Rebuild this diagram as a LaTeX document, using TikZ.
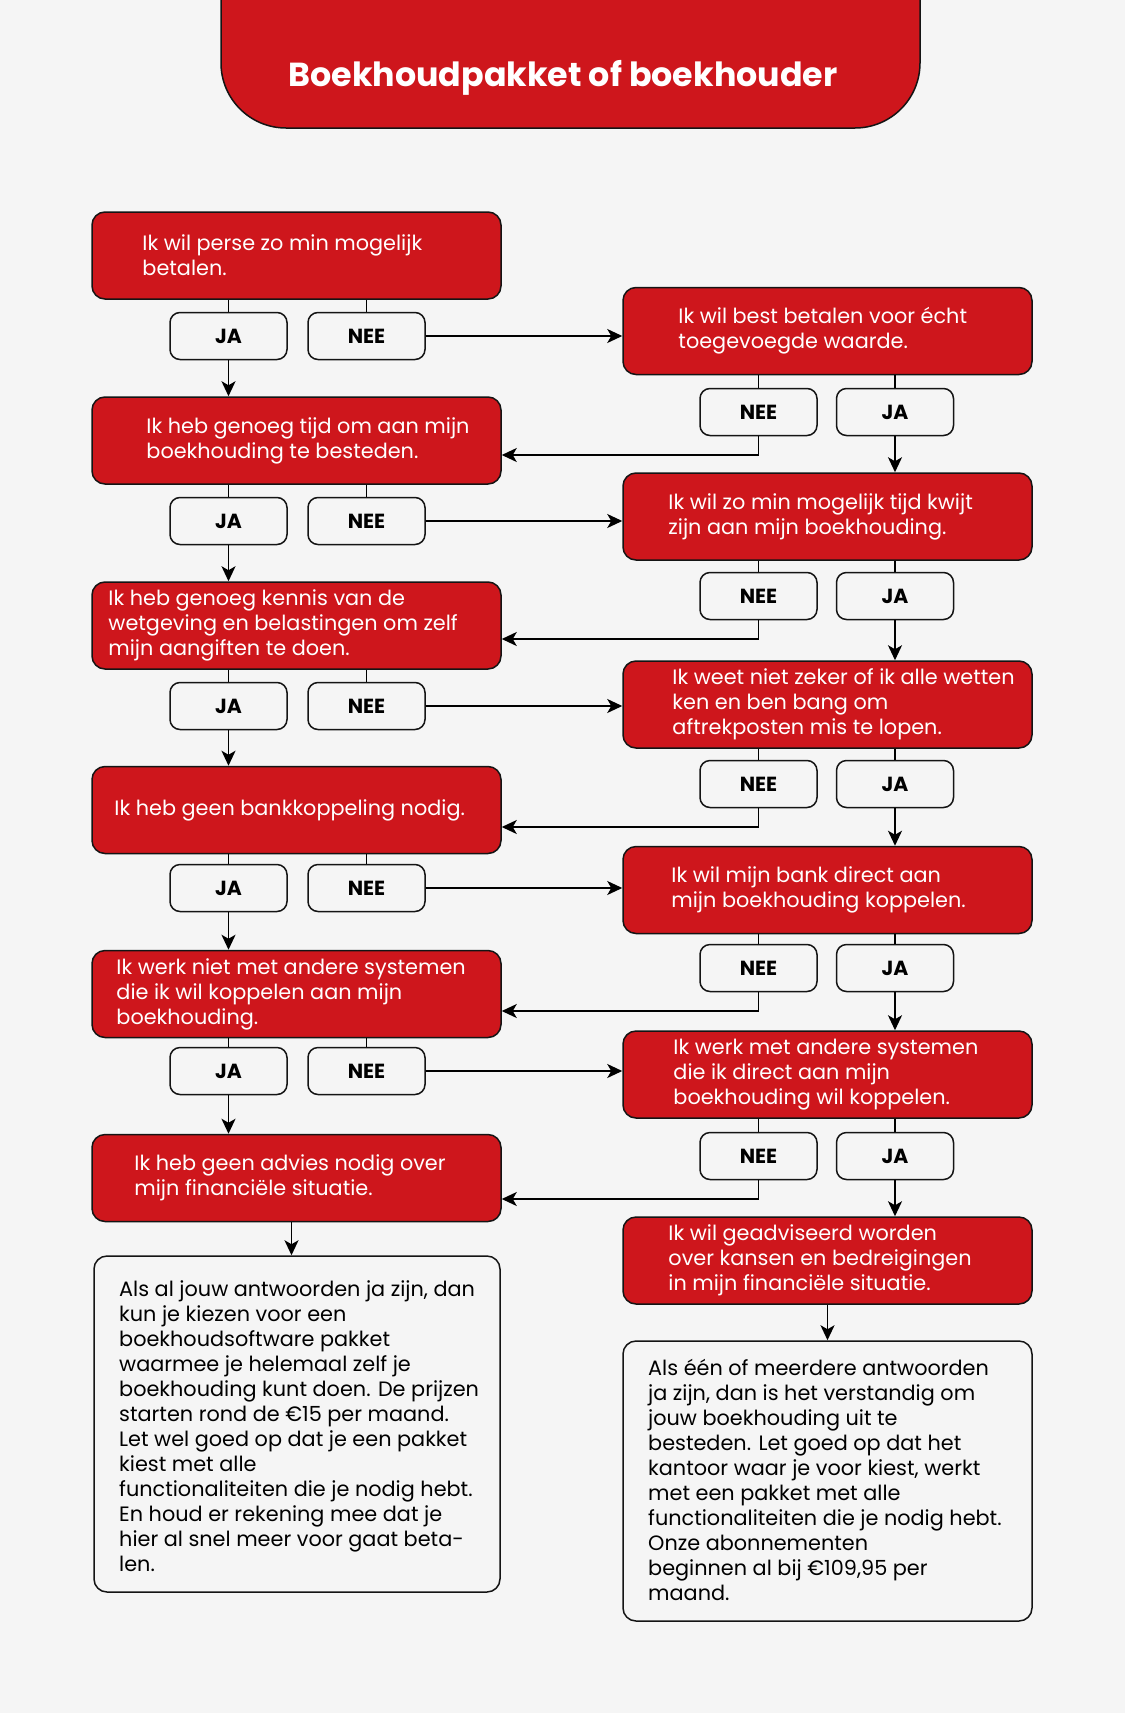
\documentclass[tikz,border=0pt]{standalone}
\usepackage{fontspec}
\setmainfont{Poppins}
\usetikzlibrary{arrows.meta,calc}
\definecolor{bg}{RGB}{245,245,245}
\definecolor{myred}{RGB}{206,22,28}
\definecolor{edge}{RGB}{20,20,20}
\tikzset{
  redbox/.style={draw=edge, line width=1.5pt, fill=myred, rounded corners=13pt,
    minimum width=409pt, minimum height=87pt, inner sep=0pt},
  lbl/.style={draw=edge, line width=1.5pt, fill=bg, rounded corners=10pt,
    minimum width=117pt, minimum height=47pt, inner sep=0pt,
    font=\fontsize{20.4}{24}\selectfont\bfseries},
  wbox/.style={draw=edge, line width=1.5pt, fill=bg, rounded corners=13pt, inner sep=0pt},
  rtxt/.style={anchor=west, text=white, align=left, inner sep=0pt,
    font=\fontsize{20.8}{25}\selectfont},
  btxt/.style={anchor=west, text=black, align=left, inner sep=0pt,
    font=\fontsize{20.8}{25}\selectfont},
  conn/.style={draw=black, line width=1.8pt},
  arr/.style={conn, -{Stealth[length=15pt,width=14pt,inset=4pt]}}
}
\begin{document}
\begin{tikzpicture}[x=1pt,y=-1pt]
\useasboundingbox (0,0) rectangle (1125,1713);
\fill[bg] (0,0) rectangle (1125,1713);
\begin{scope}
\clip (0,0) rectangle (1125,1713);
\node[draw=edge, line width=1.5pt, fill=myred, rounded corners=65pt, minimum width=699pt, minimum height=228pt, inner sep=0pt] (title) at (570.5,14) {};
\end{scope}
\node[anchor=base, text=white, inner sep=0pt, font=\fontsize{33.3}{40}\selectfont\bfseries] (ttl) at (563,86) {Boekhoudpakket of boekhouder};

% left column boxes
\node[redbox] (L1) at (296.5,255.5) {};
\node[redbox] (L2) at (296.5,440.5) {};
\node[redbox] (L3) at (296.5,625.5) {};
\node[redbox] (L4) at (296.5,810) {};
\node[redbox] (L5) at (296.5,994) {};
\node[redbox] (L6) at (296.5,1178) {};
% right column boxes
\node[redbox] (R1) at (827.5,331) {};
\node[redbox] (R2) at (827.5,516.5) {};
\node[redbox] (R3) at (827.5,704.5) {};
\node[redbox] (R4) at (827.5,890) {};
\node[redbox] (R5) at (827.5,1074.5) {};
\node[redbox] (R6) at (827.5,1260.5) {};

% texts
\node[rtxt] (tL1) at ([xshift=51pt]L1.west) {Ik wil perse zo min mogelijk\\betalen.};
\node[rtxt] (tL2) at ([xshift=55pt]L2.west) {Ik heb genoeg tijd om aan mijn\\boekhouding te besteden.};
\node[rtxt] (tL3) at ([xshift=17pt]L3.west) {Ik heb genoeg kennis van de\\wetgeving en belastingen om zelf\\mijn aangiften te doen.};
\node[rtxt] (tL4) at ([xshift=23pt]L4.west) {Ik heb geen bankkoppeling nodig.};
\node[rtxt] (tL5) at ([xshift=25pt]L5.west) {Ik werk niet met andere systemen\\die ik wil koppelen aan mijn\\boekhouding.};
\node[rtxt] (tL6) at ([xshift=43pt]L6.west) {Ik heb geen advies nodig over\\mijn financiële situatie.};
\node[rtxt] (tR1) at ([xshift=56pt]R1.west) {Ik wil best betalen voor écht\\toegevoegde waarde.};
\node[rtxt] (tR2) at ([xshift=46pt]R2.west) {Ik wil zo min mogelijk tijd kwijt\\zijn aan mijn boekhouding.};
\node[rtxt] (tR3) at ([xshift=50pt]R3.west) {Ik weet niet zeker of ik alle wetten\\ken en ben bang om\\aftrekposten mis te lopen.};
\node[rtxt] (tR4) at ([xshift=49pt]R4.west) {Ik wil mijn bank direct aan\\mijn boekhouding koppelen.};
\node[rtxt] (tR5) at ([xshift=51pt]R5.west) {Ik werk met andere systemen\\die ik direct aan mijn\\boekhouding wil koppelen.};
\node[rtxt] (tR6) at ([xshift=46pt]R6.west) {Ik wil geadviseerd worden\\over kansen en bedreigingen\\in mijn financiële situatie.};

% labels left
\foreach \i/\y in {1/336,2/521,3/706,4/888,5/1071}{
  \node[lbl] (jaL\i) at (228.5,\y) {JA};
  \node[lbl] (neeL\i) at (366.5,\y) {NEE};
}
% labels right
\foreach \i/\y in {1/412,2/596,3/784,4/968,5/1156}{
  \node[lbl] (neeR\i) at (758.5,\y) {NEE};
  \node[lbl] (jaR\i) at (895,\y) {JA};
}
\coordinate (cR1) at (758.5,455);
\coordinate (cR2) at (758.5,639);
\coordinate (cR3) at (758.5,827);
\coordinate (cR4) at (758.5,1011);
\coordinate (cR5) at (758.5,1199);

% connectors
\foreach \i/\j in {1/2,2/3,3/4,4/5,5/6}{
  \draw[conn] (jaL\i.north |- L\i.south) -- (jaL\i.north);
  \draw[conn] (neeL\i.north |- L\i.south) -- (neeL\i.north);
  \draw[arr] (jaL\i.south) -- (jaL\i.south |- L\j.north);
  \draw[arr] (neeL\i.east) -- (neeL\i.east -| R\i.west);
  \draw[conn] (neeR\i.north |- R\i.south) -- (neeR\i.north);
  \draw[conn] (jaR\i.north |- R\i.south) -- (jaR\i.north);
  \draw[arr] (jaR\i.south) -- (jaR\i.south |- R\j.north);
  \draw[arr] (neeR\i.south) -- (cR\i) -- (cR\i -| L\j.east);
}

% end boxes
\node[wbox, minimum width=406pt, minimum height=336pt] (endL) at (297,1424) {};
\node[wbox, minimum width=409pt, minimum height=280pt] (endR) at (827.5,1481) {};
\node[btxt] (tEL) at (119,1426) {Als al jouw antwoorden ja zijn, dan\\kun je kiezen voor een\\boekhoudsoftware pakket\\waarmee je helemaal zelf je\\boekhouding kunt doen. De prijzen\\starten rond de €15 per maand.\\Let wel goed op dat je een pakket\\kiest met alle\\functionaliteiten die je nodig hebt.\\En houd er rekening mee dat je\\hier al snel meer voor gaat beta-\\len.};
\node[btxt] (tER) at (648,1480) {Als één of meerdere antwoorden\\ja zijn, dan is het verstandig om\\jouw boekhouding uit te\\besteden. Let goed op dat het\\kantoor waar je voor kiest, werkt\\met een pakket met alle\\functionaliteiten die je nodig hebt.\\Onze abonnementen\\beginnen al bij €109,95 per\\maand.};

\draw[arr] ([xshift=-5pt]L6.south) -- ([xshift=-5pt]L6.south |- endL.north);
\draw[arr] (R6.south) -- (R6.south |- endR.north);
\end{tikzpicture}
\end{document}
